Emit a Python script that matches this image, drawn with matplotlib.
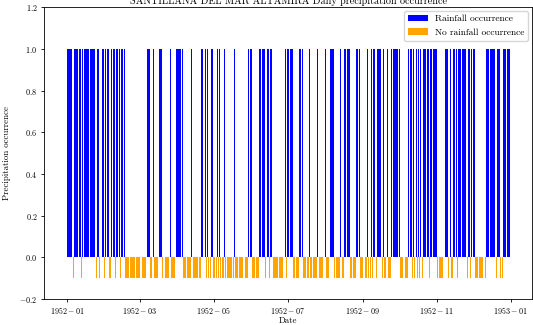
import numpy as np
import pandas as pd
import matplotlib
matplotlib.use("Agg")
import matplotlib.pyplot as plt
import matplotlib.dates as mdates
from matplotlib.ticker import FuncFormatter

# daily occurrence 1952, 1 = rain, 0 = dry, one string per month
jan = "1111101111110111111111110110111"
feb = "01110011101110111000000000000"
mar = "0000001110010000111000000100001"
apr = "111110000000100000001111010011"
may = "0001010001000000010000000000011"
jun = "100000011111011011000000000010"
jul = "1111100000111000001000000100000"
aug = "1000111100000100111110000011100"
sep = "000010010110111101001000111111"
oct_ = "1000000011101010101011111011111"
nov = "100000111101001110111111101101"
dec = "1100000001011111111011100111111"

months = [jan, feb, mar, apr, may, jun, jul, aug, sep, oct_, nov, dec]
occ = np.array([int(c) for m in months for c in m])
dates = pd.date_range("1952-01-01", periods=len(occ), freq="D")

station = "SANTILLANA DEL MAR ALTAMIRA"
dry_height = -0.1

plt.rcParams["font.family"] = "serif"
plt.rcParams["font.serif"] = ["cmr10", "DejaVu Serif"]
plt.rcParams["mathtext.fontset"] = "cm"
plt.rcParams["axes.formatter.use_mathtext"] = True

fig = plt.figure(figsize=(5.33, 3.25), dpi=100)
ax = fig.add_axes([0.0833, 0.08, 0.915, 0.8975])

rain = occ == 1
ax.bar(dates[rain], occ[rain], color="blue", label="Rainfall occurrence")
ax.bar(dates[~rain], np.full((~rain).sum(), dry_height), color="orange", label="No rainfall occurrence")

ax.set_ylim(-0.2, 1.2)
ax.set_yticks(np.arange(-0.2, 1.21, 0.2))
ax.yaxis.set_major_formatter(FuncFormatter(lambda v, p: r"$\mathdefault{%.1f}$" % v))
ax.xaxis.set_major_locator(mdates.MonthLocator(bymonth=[1, 3, 5, 7, 9, 11]))
ax.xaxis.set_major_formatter(FuncFormatter(
    lambda v, p: r"$\mathdefault{%s}$" % mdates.num2date(v).strftime("%Y-%m")))
ax.tick_params(labelsize=5.8, width=0.6, length=2.5, pad=2.5)
ax.tick_params(axis="x", pad=2)
for s in ax.spines.values():
    s.set_linewidth(0.6)

ax.set_xlabel("Date", fontsize=6.4)
ax.xaxis.set_label_coords(0.5, -0.06)
ax.set_ylabel("Precipitation occurrence", fontsize=6.4, labelpad=6)
ax.set_title(station + " Daily precipitation occurrence", fontsize=7.3, pad=2.5)
ax.legend(loc="upper right", fontsize=6.8, framealpha=0.8, borderaxespad=0.4,
          handlelength=2.1)

fig.savefig("out.png", dpi=100)
